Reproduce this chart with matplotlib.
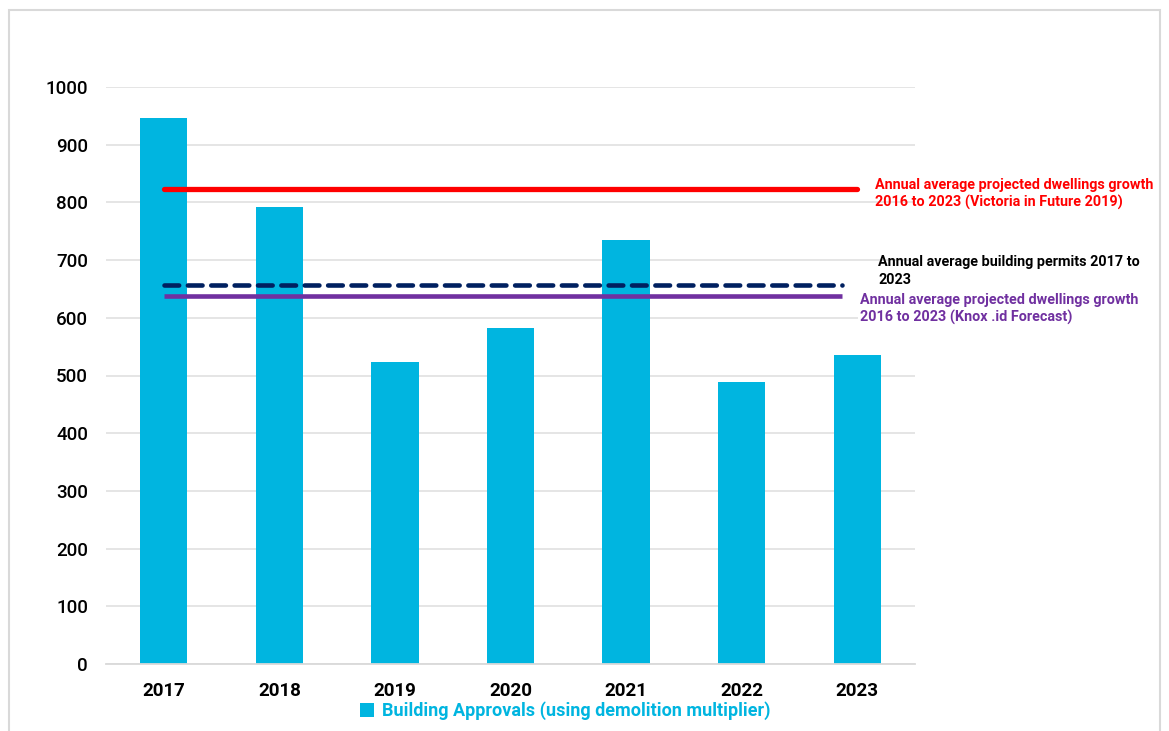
import matplotlib.pyplot as plt
from matplotlib.patches import Rectangle

years = ['2017', '2018', '2019', '2020', '2021', '2022', '2023']
approvals = [946, 792, 523, 582, 735, 489, 535]

vif_avg = 823      # Victoria in Future 2019
permits_avg = 657  # building permits 2017-2023
knox_avg = 638     # Knox .id forecast

cyan = '#00B5E0'
red = '#FF0000'
navy = '#002060'
purple = '#7030A0'

plt.rcParams['font.family'] = ['Roboto', 'DejaVu Sans']

fig = plt.figure(figsize=(11.69, 7.31), dpi=100)
fig.patches.append(Rectangle((9 / 1169, -0.05), 1151 / 1169, 1.05 - 10 / 731,
                             transform=fig.transFigure, fill=False,
                             edgecolor='#d9d9d9', linewidth=1.5))

ax = fig.add_axes([106 / 1169, 1 - 664 / 731, 809 / 1169, 577 / 731])
x = range(len(years))
ax.bar(x, approvals, width=0.41, color=cyan, zorder=2,
       label='Building Approvals (using demolition multiplier)')

ax.plot([0, 6], [vif_avg, vif_avg], color=red, lw=3.8, solid_capstyle='round', zorder=3)
ax.plot([0, 5.87], [permits_avg, permits_avg], color=navy, lw=3.3,
        dashes=(3.2, 1.9), dash_capstyle='round', zorder=3)
ax.plot([0, 5.87], [knox_avg, knox_avg], color=purple, lw=3.3,
        solid_capstyle='butt', zorder=3)

ax.set_xlim(-0.5, 6.5)
ax.set_ylim(0, 1000)
ax.set_yticks(range(0, 1001, 100))
ax.set_xticks(list(x))
ax.set_xticklabels(years, fontsize=13.5, fontweight='bold')
for lab in ax.get_yticklabels():
    lab.set_fontweight('medium')
ax.tick_params(axis='y', labelsize=13.5, length=0, pad=13)
ax.tick_params(axis='x', length=0, pad=13)
ax.grid(axis='y', color='#e3e3e3', lw=1.3, zorder=0)
ax.set_axisbelow(True)
for s in ['top', 'right', 'left']:
    ax.spines[s].set_visible(False)
ax.spines['bottom'].set_color('#d9d9d9')
ax.spines['bottom'].set_linewidth(1.3)

fig.text(875 / 1169, 1 - 194 / 731,
         'Annual average projected dwellings growth\n2016 to 2023 (Victoria in Future 2019)',
         color=red, fontsize=10.4, fontweight='bold', va='center', linespacing=1.3)
fig.text(878 / 1169, 1 - 271 / 731,
         'Annual average building permits 2017 to\n2023',
         color='black', fontsize=10.4, fontweight='bold', va='center', linespacing=1.3)
fig.text(860 / 1169, 1 - 309 / 731,
         'Annual average projected dwellings growth\n2016 to 2023 (Knox .id Forecast)',
         color=purple, fontsize=10.4, fontweight='bold', va='center', linespacing=1.3,
         bbox=dict(facecolor='white', edgecolor='none', pad=1.5))

leg = fig.legend(loc='center', bbox_to_anchor=(565 / 1169, 1 - 711 / 731), frameon=False,
                 prop={'size': 13, 'weight': 'bold'}, handlelength=0.8, handleheight=0.8,
                 handletextpad=0.4)
for t in leg.get_texts():
    t.set_color(cyan)

fig.savefig('out.png', dpi=100)
